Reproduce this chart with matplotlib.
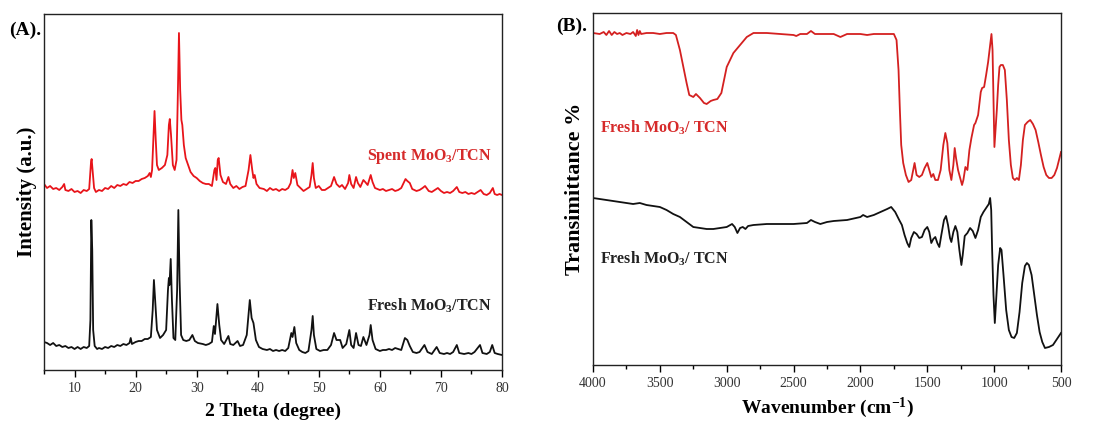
import matplotlib
matplotlib.use('Agg')
import matplotlib.pyplot as plt
from matplotlib.ticker import MultipleLocator
import numpy as np

plt.rcParams['font.family'] = ['Liberation Serif', 'DejaVu Serif']
plt.rcParams['mathtext.fontset'] = 'custom'
plt.rcParams['mathtext.rm'] = 'Liberation Serif:bold'
plt.rcParams['mathtext.default'] = 'rm'

# XRD (A): 2 theta and intensity (a.u.)
theta_spent = [5.0, 5.5, 6, 6.5, 7, 7.5, 8, 8.3, 8.5, 9, 9.5, 10, 10.5, 11, 11.5, 12, 12.4, 12.7, 12.8, 12.95,
               13.2, 13.5, 14, 14.5, 15, 15.5, 16, 16.5, 17, 17.5, 18, 18.5, 19, 19.5, 20, 20.5, 21, 21.5, 22,
               22.3, 22.5, 22.7, 22.9, 23.1, 23.3, 23.5, 23.8, 24.3, 24.8, 25.2, 25.45, 25.6, 25.8, 26.1, 26.4,
               26.7, 26.9, 27.1, 27.3, 27.5, 27.65, 27.9, 28.2, 28.6, 29, 29.5, 30, 30.5, 31, 31.5, 32, 32.5,
               32.9, 33.05, 33.25, 33.45, 33.6, 33.9, 34.3, 34.8, 35.2, 35.5, 36, 36.5, 37, 37.5, 38, 38.5, 38.8,
               39.1, 39.3, 39.5, 39.8, 40.3, 41, 41.5, 42, 42.5, 43, 43.5, 44, 44.5, 45, 45.4, 45.7, 45.9, 46.15,
               46.5, 47, 47.5, 48, 48.5, 48.8, 49.0, 49.2, 49.5, 50, 50.5, 51, 51.5, 52, 52.5, 52.9, 53.4, 53.8,
               54.3, 54.8, 55.0, 55.3, 55.7, 56.1, 56.4, 56.8, 57.3, 57.6, 58, 58.5, 58.8, 59.2, 60, 60.5, 61,
               61.5, 62, 62.5, 63, 63.5, 64.2, 64.5, 64.9, 65.3, 66, 66.5, 67, 67.4, 68, 68.5, 69, 69.5, 70, 70.5,
               71, 71.5, 72, 72.6, 73, 73.5, 74, 74.5, 75, 75.5, 76, 76.5, 77, 77.5, 78, 78.5, 78.8, 79.2, 79.6, 80]
int_spent = [186, 182, 184, 181, 182, 180, 183, 186, 180, 179, 181, 178, 179, 177, 180, 179, 181, 208, 211, 200,
             182, 178, 180, 179, 182, 181, 184, 182, 185, 184, 186, 185, 188, 187, 189, 189, 191, 192, 194,
             197, 193, 200, 230, 259, 230, 205, 200, 202, 205, 215, 245, 251, 235, 205, 200,
             210, 270, 337, 280, 250, 245, 225, 212, 205, 198, 194, 192, 189, 187, 186, 186, 184,
             200, 202, 190, 210, 212, 195, 188, 186, 193, 186, 182, 184, 181, 183, 184, 200, 215,
             200, 192, 195, 186, 182, 181, 179, 182, 180, 181, 179, 181, 180, 182, 187, 200, 192, 197,
             185, 182, 179, 181, 183, 195, 207, 192, 182, 184, 180, 180, 182, 184, 193, 186, 183, 185,
             181, 187, 195, 186, 182, 193, 187, 183, 190, 188, 185, 195, 188, 182, 180, 181, 179,
             180, 181, 179, 180, 182, 191, 189, 187, 181, 179, 180, 182, 184, 179, 178, 180, 182, 179, 177,
             178, 177, 179, 183, 178, 177, 178, 176, 177, 176, 178, 180, 176, 175, 177, 182, 176, 175, 176, 175]

theta_fresh = [5, 5.5, 6, 6.5, 7, 7.5, 8, 8.5, 9, 9.5, 10, 10.5, 11, 11.5, 12, 12.4, 12.6, 12.75, 12.9, 13.05,
               13.3, 13.7, 14, 14.5, 15, 15.5, 16, 16.5, 17, 17.5, 18, 18.5, 19, 19.2, 19.4, 20, 20.5, 21, 21.5,
               22, 22.5, 22.8, 23.0, 23.2, 23.5, 24, 24.5, 25, 25.3, 25.45, 25.55, 25.75, 25.95, 26.2, 26.5,
               26.8, 27.0, 27.2, 27.45, 27.8, 28.3, 28.8, 29.3, 29.7, 30.2, 31, 31.5, 32, 32.5, 32.8, 33.0, 33.4,
               33.7, 34, 34.5, 35.2, 35.5, 36, 36.7, 37.1, 37.6, 38.2, 38.7, 39.0, 39.3, 39.7, 40.2, 40.8, 41.5,
               42, 42.5, 43, 43.5, 44, 44.5, 45, 45.5, 45.7, 46.0, 46.3, 46.8, 47.3, 47.8, 48.3, 48.8, 49.0, 49.2,
               49.6, 50.2, 50.8, 51.4, 52, 52.5, 52.9, 53.5, 53.9, 54.5, 55.0, 55.3, 55.7, 56.1, 56.5, 56.9, 57.3,
               57.8, 58.3, 58.5, 58.8, 59.3, 60, 60.5, 61, 61.5, 62, 62.5, 63, 63.5, 64.1, 64.5, 64.9, 65.4, 66,
               66.5, 67.3, 67.8, 68.5, 69.3, 69.8, 70.5, 71, 71.5, 72, 72.6, 73, 73.8, 74.5, 75, 75.5, 76.4, 76.8,
               77.5, 78, 78.4, 78.8, 79.3, 80]
int_fresh = [28, 27, 25, 27, 24, 25, 23, 24, 22, 23, 21, 23, 21, 23, 22, 24, 50, 150, 120, 40,
             24, 21, 22, 21, 23, 22, 24, 23, 25, 24, 26, 25, 27, 32, 26, 28, 29, 29, 31,
             31, 33, 60, 90, 70, 40, 32, 35, 40, 80, 92, 85, 111, 70, 32, 30,
             80, 160, 90, 35, 30, 29, 30, 35, 29, 27, 26, 25, 26, 28, 44, 36, 66,
             45, 30, 26, 34, 26, 25, 29, 24, 25, 35, 70, 52, 47, 30, 23, 21, 20,
             21, 19, 20, 19, 20, 19, 22, 37, 33, 43, 27, 20, 18, 17, 19, 40, 54, 35,
             21, 19, 20, 20, 25, 37, 30, 30, 22, 26, 40, 25, 22, 37, 25, 24, 33,
             25, 35, 45, 30, 21, 19, 20, 20, 21, 20, 22, 21, 20, 32, 30, 24, 18, 17,
             18, 25, 18, 16, 23, 17, 16, 17, 16, 18, 25, 17, 16, 17, 16, 18, 25, 17,
             16, 18, 25, 17, 16, 15]

# FTIR (B): wavenumber and transmittance (a.u.)
wn_spent = [4000, 3950, 3920, 3900, 3880, 3860, 3840, 3820, 3800, 3780, 3750, 3720, 3700, 3680, 3670, 3660, 3650,
            3640, 3600, 3550, 3500, 3450, 3400, 3380, 3350, 3320, 3300, 3280, 3250, 3230, 3200, 3170, 3150, 3120,
            3100, 3070, 3040, 3020, 3000, 2950, 2900, 2850, 2800, 2700, 2600, 2500, 2480, 2450, 2400, 2370, 2340,
            2300, 2200, 2150, 2100, 2000, 1950, 1900, 1800, 1750, 1730, 1715, 1705, 1695, 1680, 1660, 1640, 1620,
            1605, 1595, 1580, 1560, 1540, 1520, 1500, 1485, 1470, 1455, 1440, 1420, 1400, 1380, 1365, 1350, 1335,
            1320, 1305, 1295, 1285, 1270, 1250, 1240, 1230, 1215, 1200, 1185, 1170, 1150, 1140, 1120, 1100, 1090,
            1075, 1060, 1045, 1030, 1020, 1012, 1005, 998, 990, 980, 970, 960, 950, 935, 920, 905, 890, 875, 860,
            845, 830, 815, 800, 785, 770, 750, 730, 710, 690, 670, 650, 630, 610, 590, 570, 550, 530, 515, 500]
tr_spent = [332, 331, 333, 330, 334, 330, 333, 331, 332, 330, 332, 331, 333, 329, 335, 330, 334,
            331, 332, 332, 331, 332, 332, 330, 315, 295, 282, 270, 268, 271, 267, 262, 261, 264,
            265, 266, 272, 285, 298, 312, 320, 328, 332, 332, 331, 330, 329, 331, 331, 334, 331,
            331, 331, 328, 331, 331, 330, 331, 331, 331, 325, 295, 255, 220, 202, 190, 183, 185,
            195, 202, 190, 188, 190, 197, 202, 195, 188, 191, 185, 185, 195, 220, 232, 222, 195,
            185, 200, 217, 207, 195, 185, 180, 185, 198, 195, 215, 227, 240, 242, 250, 273, 277,
            278, 290, 303, 320, 331, 315, 265, 218, 235, 255, 280, 298, 300, 300, 295, 265, 225, 200, 187,
            185, 187, 185, 200, 225, 240, 243, 245, 241, 235, 223, 210, 198, 190, 187, 187, 190, 197, 205, 213]

wn_fresh = [4000, 3900, 3800, 3700, 3650, 3600, 3500, 3450, 3400, 3350, 3300, 3250, 3200, 3150, 3100, 3050, 3000,
            2960, 2940, 2920, 2900, 2880, 2860, 2840, 2800, 2700, 2600, 2500, 2400, 2370, 2340, 2300, 2250, 2200,
            2100, 2000, 1980, 1950, 1900, 1850, 1800, 1770, 1740, 1710, 1690, 1670, 1650, 1635, 1620, 1600, 1580,
            1560, 1540, 1520, 1500, 1485, 1470, 1455, 1440, 1425, 1410, 1395, 1375, 1360, 1345, 1330, 1320, 1305,
            1290, 1275, 1260, 1245, 1235, 1220, 1200, 1180, 1160, 1140, 1120, 1100, 1080, 1060, 1040, 1030, 1022,
            1015, 1005, 995, 985, 970, 955, 945, 930, 910, 890, 870, 850, 830, 810, 790, 770, 755, 740, 720, 700,
            680, 660, 640, 620, 590, 560, 530, 500]
tr_fresh = [167, 165, 163, 161, 162, 160, 158, 155, 151, 148, 143, 138, 137, 136, 136, 137, 138,
            141, 138, 132, 137, 138, 136, 139, 140, 141, 141, 141, 142, 145, 143, 141, 143, 144,
            145, 148, 150, 148, 150, 153, 156, 158, 153, 145, 140, 130, 122, 118, 127, 133, 131,
            127, 128, 135, 138, 133, 122, 126, 128, 122, 118, 130, 145, 149, 140, 127, 123, 133,
            139, 133, 115, 100, 110, 129, 132, 137, 134, 127, 135, 148, 153, 157, 161, 167, 155,
            115, 70, 42, 65, 100, 117, 115, 90, 55, 35, 28, 27, 32, 53, 82, 99, 102, 100, 90, 70,
            50, 33, 23, 17, 18, 20, 26, 32]

fig = plt.figure(figsize=(10.96, 4.25), dpi=100)
ax1 = fig.add_axes([44 / 1096, 55 / 425, 458 / 1096, 356 / 425])
ax2 = fig.add_axes([593 / 1096, 60 / 425, 468 / 1096, 352 / 425])

ax1.plot(theta_spent, int_spent, color='#e8141a', lw=1.3)
ax1.plot(theta_fresh, int_fresh, color='#111111', lw=1.3)
ax1.set_xlim(5, 80)
ax1.set_ylim(0, 356)
ax1.xaxis.set_major_locator(MultipleLocator(10))
ax1.xaxis.set_minor_locator(MultipleLocator(5))
ax1.set_xlabel('2 Theta (degree)', fontsize=14, fontweight='bold', labelpad=6)
ax1.set_ylabel('Intensity (a.u.)', fontsize=15, fontweight='bold', labelpad=5)
ax1.text(0.705, 0.6, 'Spent MoO$_3$/TCN', transform=ax1.transAxes, color='#d62a2a',
         fontsize=11.5, fontweight='bold', ha='left', va='center')
ax1.text(0.705, 0.18, 'Fresh MoO$_3$/TCN', transform=ax1.transAxes, color='#222222',
         fontsize=11.5, fontweight='bold', ha='left', va='center')
fig.text(9 / 1096, 1 - 30 / 425, '(A).', fontsize=14, fontweight='bold', va='center')

ax2.plot(wn_spent, tr_spent, color='#d42020', lw=1.3)
ax2.plot(wn_fresh, tr_fresh, color='#111111', lw=1.3)
ax2.set_xlim(4000, 500)
ax2.set_ylim(0, 352)
ax2.xaxis.set_major_locator(MultipleLocator(500))
ax2.xaxis.set_minor_locator(MultipleLocator(250))
ax2.set_xlabel('Wavenumber (cm$^{-1}$)', fontsize=14, fontweight='bold', labelpad=4)
ax2.set_ylabel('Transimittance %', fontsize=16, fontweight='bold', labelpad=6)
ax2.text(0.016, 0.673, 'Fresh MoO$_3$/ TCN', transform=ax2.transAxes, color='#d62a2a',
         fontsize=11.5, fontweight='bold', ha='left', va='center')
ax2.text(0.016, 0.301, 'Fresh MoO$_3$/ TCN', transform=ax2.transAxes, color='#222222',
         fontsize=11.5, fontweight='bold', ha='left', va='center')
fig.text(556 / 1096, 1 - 26 / 425, '(B).', fontsize=14, fontweight='bold', va='center')

for ax in (ax1, ax2):
    ax.set_yticks([])
    ax.tick_params(axis='x', which='major', direction='out', length=5, width=1,
                   labelsize=10, labelcolor='#333333', top=False)
    ax.tick_params(axis='x', which='minor', direction='out', length=3, width=1, top=False)
    for sp in ax.spines.values():
        sp.set_linewidth(1.0)
        sp.set_color('#222222')

fig.savefig('out.png', dpi=100)
